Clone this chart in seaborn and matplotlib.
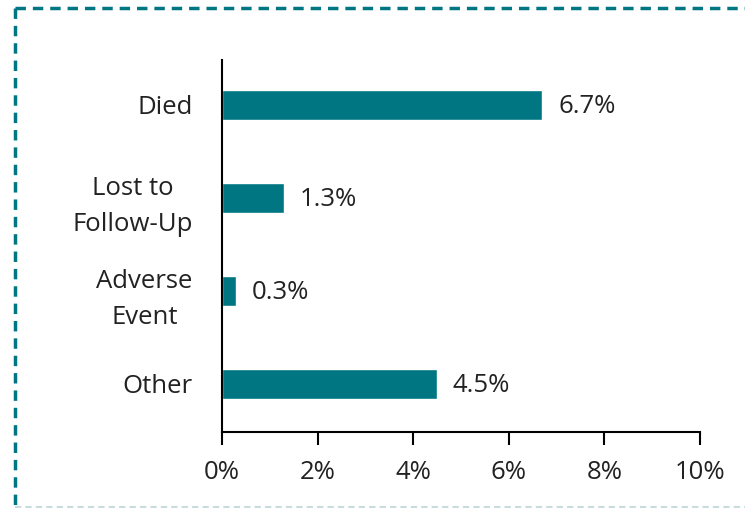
import numpy as np
import pandas as pd
import matplotlib
matplotlib.use("Agg")
import matplotlib.pyplot as plt
from matplotlib.lines import Line2D
import seaborn as sns

categories = ["Died", "Lost to\nFollow-Up", "Adverse\nEvent", "Other"]
values = [6.7, 1.3, 0.3, 4.5]
xticks = [0, 2, 4, 6, 8, 10]

teal = "#007682"

sns.set_theme(style="white")
plt.rcParams["font.family"] = ["Open Sans", "DejaVu Sans"]

df = pd.DataFrame({"reason": categories, "pct": values})

fig = plt.figure(figsize=(7.45, 5.08), dpi=100)
ax = fig.add_axes([222 / 745, 1 - 432 / 508, (700 - 222) / 745, (432 - 60) / 508])

sns.barplot(data=df, x="pct", y="reason", color=teal, saturation=1, width=0.32, ax=ax)

ax.set_xlim(0, 10)
ax.set_ylim(3.52, -0.48)
ax.set_xticks(xticks)
ax.set_xticklabels([f"{t}%" for t in xticks])
ax.set_xlabel("")
ax.set_ylabel("")

for i, v in enumerate(values):
    ax.text(v + 0.33, i + 0.02, f"{v:.1f}%", va="center", ha="left", fontsize=18.5, color="#222222")

for s in ["top", "right"]:
    ax.spines[s].set_visible(False)
for s in ["left", "bottom"]:
    ax.spines[s].set_color("black")
    ax.spines[s].set_linewidth(1.5)

ax.tick_params(axis="x", which="major", direction="out", length=9, width=1.5,
               color="black", bottom=True, labelsize=18.5, labelcolor="#222222", pad=11)
ax.tick_params(axis="y", length=0, labelsize=18.5, labelcolor="#222222", pad=21)
for lbl in ax.get_yticklabels():
    lbl.set_multialignment("center")
    lbl.set_linespacing(1.6)

# dashed frame around the chart
fig.add_artist(Line2D([15 / 745, 1], [1 - 8 / 508, 1 - 8 / 508], transform=fig.transFigure,
                      color=teal, lw=2.5, ls=(0, (3, 2))))
fig.add_artist(Line2D([15 / 745, 15 / 745], [1 - 8 / 508, 0], transform=fig.transFigure,
                      color=teal, lw=2.5, ls=(0, (3, 2))))
fig.add_artist(Line2D([15 / 745, 1], [1 / 508, 1 / 508], transform=fig.transFigure,
                      color="#c8dcde", lw=1.5, ls=(0, (3, 2))))

fig.savefig("out.png", dpi=100)
